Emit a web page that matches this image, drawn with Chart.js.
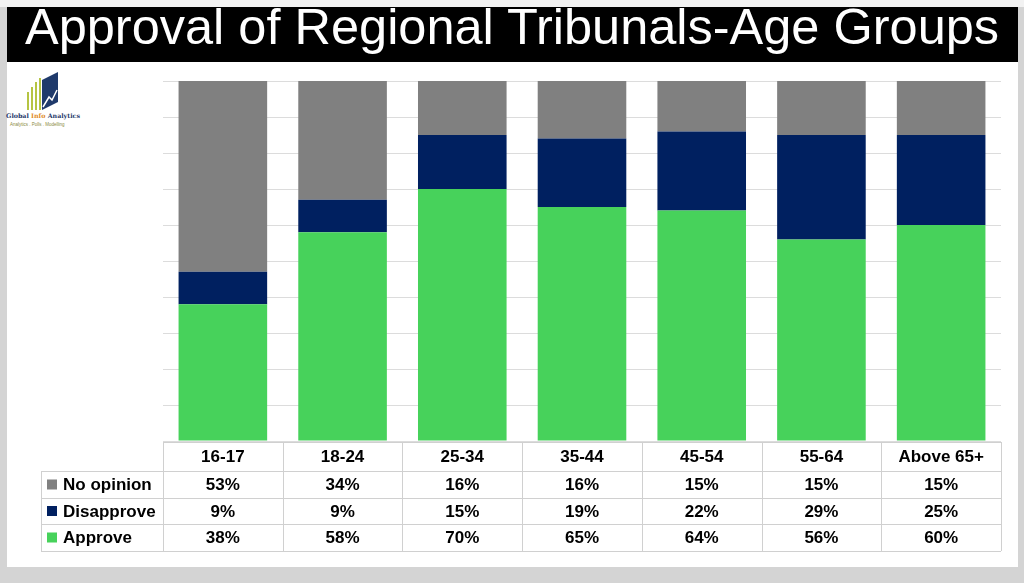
<!DOCTYPE html>
<html>
<head>
<meta charset="utf-8">
<script src="https://cdn.jsdelivr.net/npm/chart.js@4"></script>
<style>
  body { margin: 0; width: 1024px; height: 583px; background: #d4d4d4; position: relative; overflow: hidden; font-family: "Liberation Sans", Arial, sans-serif; }
  #topstrip { position: absolute; left: 0; top: 0; width: 1024px; height: 7px; background: #f2f2f2; }
  #panel { position: absolute; left: 7px; top: 62px; width: 1011px; height: 505px; background: #ffffff; }
  #banner { position: absolute; left: 7px; top: 7px; width: 1011px; height: 55px; background: #000000; color: #ffffff; font-size: 50.5px; line-height: 48px; white-space: nowrap; overflow: hidden; }
  #banner span { position: absolute; left: 18px; top: -4px; }
  #logo { position: absolute; left: 6px; top: 72px; width: 80px; height: 60px; }
  #logo .name { position: absolute; left: 0; top: 40px; font-family: "DejaVu Serif", serif; font-weight: bold; font-size: 6.3px; color: #1f3a6b; white-space: nowrap; }
  #logo .name b { color: #e08a1e; }
  #logo .tag { position: absolute; left: 4px; top: 50px; font-size: 4.5px; color: #8a8a40; white-space: nowrap; }
  #wrap { position: absolute; left: 0; top: 0; width: 1024px; height: 583px; }
</style>
</head>
<body>
<div id="topstrip"></div>
<div id="panel"></div>
<div id="banner"><span>Approval of Regional Tribunals-Age Groups</span></div>
<div id="logo">
  <svg width="60" height="40" style="position:absolute;left:14px;top:0">
    <line x1="8" y1="38" x2="8" y2="20" stroke="#b5c443" stroke-width="2"/>
    <line x1="12" y1="38" x2="12" y2="15" stroke="#b5c443" stroke-width="2"/>
    <line x1="16" y1="38" x2="16" y2="10" stroke="#b5c443" stroke-width="2"/>
    <line x1="20" y1="38" x2="20" y2="6" stroke="#b5c443" stroke-width="2"/>
    <polygon points="22,8 38,0 38,30 22,38" fill="#1f3a6b"/>
    <polyline points="23,35 29,25 32,28 37,18" fill="none" stroke="#ffffff" stroke-width="1.5"/>
  </svg>
  <div class="name">Global <b>Info</b> Analytics</div>
  <div class="tag">Analytics . Polls . Modelling</div>
</div>
<div id="wrap"><canvas id="myChart"></canvas></div>
<script>
const categories = ['16-17', '18-24', '25-34', '35-44', '45-54', '55-64', 'Above 65+']
const approve = [38, 58, 70, 65, 64, 56, 60]
const disapprove = [9, 9, 15, 19, 22, 29, 25]
const noOpinion = [53, 34, 16, 16, 15, 15, 15]

const seriesNames = ['No opinion', 'Disapprove', 'Approve']
const seriesColors = ['#808080', '#002060', '#47d25b']

// draws the data table under the plot, columns follow the x scale
const dataTable = {
    id: 'dataTable',
    afterDraw(chart) {
        const ctx = chart.ctx
        const x = chart.scales.x
        const top = chart.chartArea.bottom + 1
        const rowTops = [top, top + 29, top + 56, top + 82, top + 109]
        const step = x.getPixelForValue(1) - x.getPixelForValue(0)
        const left = x.getPixelForValue(0) - step / 2
        const right = x.getPixelForValue(categories.length - 1) + step / 2
        const legendLeft = 41
        const rowsData = [noOpinion, disapprove, approve]

        ctx.save()
        ctx.strokeStyle = '#d0d0d0'
        ctx.lineWidth = 1
        // horizontal lines
        ctx.beginPath()
        ctx.moveTo(left, rowTops[0] + 0.5)
        ctx.lineTo(right, rowTops[0] + 0.5)
        for (let r = 1; r < rowTops.length; r++) {
            ctx.moveTo(legendLeft, rowTops[r] + 0.5)
            ctx.lineTo(right, rowTops[r] + 0.5)
        }
        // vertical lines
        for (let i = 0; i <= categories.length; i++) {
            const px = Math.round(left + i * step) + 0.5
            ctx.moveTo(px, rowTops[0])
            ctx.lineTo(px, rowTops[4])
        }
        ctx.moveTo(legendLeft + 0.5, rowTops[1])
        ctx.lineTo(legendLeft + 0.5, rowTops[4])
        ctx.stroke()

        ctx.fillStyle = '#000000'
        ctx.font = 'bold 17px "Liberation Sans", Arial, sans-serif'
        ctx.textAlign = 'center'
        ctx.textBaseline = 'middle'
        categories.forEach((c, i) => {
            const cx = x.getPixelForValue(i)
            ctx.fillText(c, cx, (rowTops[0] + rowTops[1]) / 2 + 1)
            rowsData.forEach((arr, r) => {
                ctx.fillText(arr[i] + '%', cx, (rowTops[r + 1] + rowTops[r + 2]) / 2 + 1)
            })
        })

        ctx.textAlign = 'left'
        seriesNames.forEach((name, r) => {
            const cy = (rowTops[r + 1] + rowTops[r + 2]) / 2
            ctx.fillStyle = seriesColors[r]
            ctx.fillRect(47, cy - 5, 10, 10)
            ctx.fillStyle = '#000000'
            ctx.fillText(name, 63, cy + 1)
        })
        ctx.restore()
    }
}

const chart = new Chart(document.getElementById('myChart'), {
    type: 'bar',
    data: {
        labels: categories,
        datasets: [
            { label: 'Approve', data: approve, backgroundColor: '#47d25b' },
            { label: 'Disapprove', data: disapprove, backgroundColor: '#002060' },
            { label: 'No opinion', data: noOpinion, backgroundColor: '#808080' }
        ]
    },
    options: {
        responsive: true,
        maintainAspectRatio: false,
        animation: false,
        layout: {
            padding: { left: 163, right: 23, top: 81, bottom: 142 }
        },
        datasets: {
            bar: { categoryPercentage: 1, barPercentage: 0.74 }
        },
        plugins: {
            legend: { display: false },
            tooltip: { enabled: false }
        },
        scales: {
            x: {
                stacked: true,
                display: false
            },
            y: {
                stacked: true,
                min: 0,
                max: 100,
                ticks: { display: false, stepSize: 10 },
                grid: { color: '#dcdcdc', drawTicks: false },
                border: { display: false }
            }
        }
    },
    plugins: [dataTable]
})
</script>
</body>
</html>
